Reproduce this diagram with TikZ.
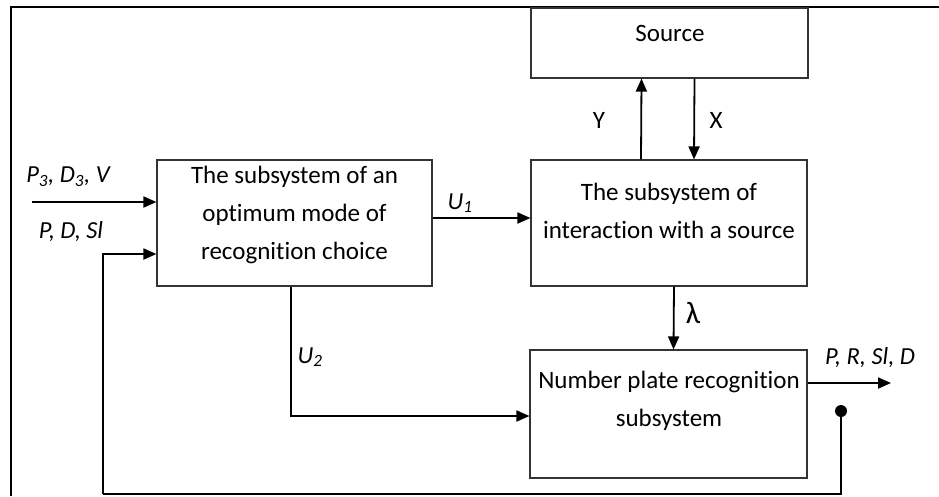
\documentclass[tikz,border=0pt]{standalone}
\usepackage{fontspec}
\setmainfont{Carlito}[Ligatures=NoCommon]
\usetikzlibrary{arrows.meta}
\begin{document}
\begin{tikzpicture}[x=1pt,y=-1pt,
  every node/.style={font=\fontsize{25}{38}\selectfont, inner sep=0pt},
  box/.style={draw=black!80, line width=1.1pt, rectangle},
  txt/.style={align=center},
  lbl/.style={font=\fontsize{24.5}{28}\selectfont\itshape},
  arr/.style={line width=1.8pt, -{Triangle[length=13pt,width=11pt]}},
  ln/.style={line width=1.8pt},
  frame/.style={line width=2.4pt}]
\useasboundingbox (0,0) rectangle (939,496);
% outer frame (only top and left edges visible)
\draw[frame] (11,496) -- (11,7) -- (939,7);
% boxes
\node[box, minimum width=277pt, minimum height=70pt] (S) at (669.5,43) {};
\node[box, minimum width=275pt, minimum height=126pt] (A) at (294.5,223) {};
\node[box, minimum width=276pt, minimum height=126pt] (I) at (669,223) {};
\node[box, minimum width=277pt, minimum height=128pt] (N) at (668.5,414) {};
% box texts
\node[txt] (St) at (670,33) {Source};
\node[txt] (At) at (294.5,215) {The subsystem of an\\optimum mode of\\recognition choice};
\node[txt] (It) at (669,211) {The subsystem of\\interaction with a source};
\node[txt] (Nt) at (669,401) {Number plate recognition\\subsystem};
% free ends
\coordinate (in1) at (32,202);
\coordinate (out) at (891,383);
\coordinate (dot) at (841,411);
\coordinate (fb) at (103,494);
% connectors
\draw[arr] (in1) -- (A.west |- in1);
\draw[arr] ([yshift=5pt]A.east) -- ([yshift=5pt]I.west);
\draw[arr] ([xshift=-28pt]I.north) -- ([xshift=-28pt]S.south);
\draw[arr] ([xshift=25pt]S.south) -- ([xshift=25pt]I.north);
\draw[arr] ([xshift=5pt]I.south) -- ([xshift=5pt]N.north);
\draw[arr] ([xshift=-3.5pt]A.south) |- ([yshift=-2pt]N.west);
\draw[arr] ([yshift=31pt]N.east) -- (out);
\fill (dot) circle (6pt);
\draw[ln] (dot) |- (fb);
\draw[arr] (fb) |- ([yshift=-31pt]A.west);
% labels
\node[lbl] (l1) at (68,177) {P\textsubscript{3}, D\textsubscript{3}, V};
\node[lbl] (l2) at (71,232) {P, D, Sl};
\node[lbl] (lu1) at (460,203) {U\textsubscript{1}};
\node[lbl] (lu2) at (310,357) {U\textsubscript{2}};
\node (ly) at (599,120) {Y};
\node (lx) at (716,120) {X};
\node[font=\fontsize{31}{34}\selectfont] (ll) at (693,313) {λ};
\node[lbl] (lo) at (870,358) {P, R, Sl, D};
\end{tikzpicture}
\end{document}
